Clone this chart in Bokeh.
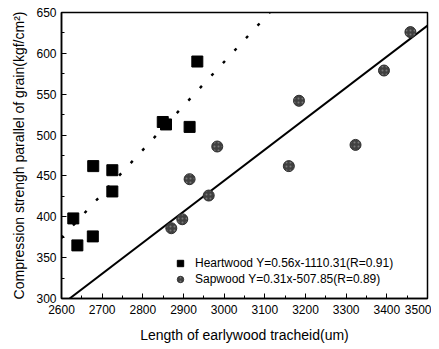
from bokeh.plotting import figure
from bokeh.models import Range1d, Legend, LegendItem, FixedTicker
from bokeh.embed import file_html
from bokeh.resources import INLINE

heart_x = [2629, 2639, 2677, 2678, 2725, 2725, 2849, 2857, 2915, 2934]
heart_y = [398, 365, 376, 462, 431, 457, 516, 513, 510, 590]
sap_x = [2870, 2897, 2915, 2962, 2983, 3159, 3184, 3323, 3393, 3458]
sap_y = [386, 397, 446, 426, 486, 462, 542, 488, 579, 626]
heart_fit_x = [2600, 3112]
heart_fit_y = [374, 650]
sap_fit_x = [2620, 3500]
sap_fit_y = [300, 634]
x_ticks = [2600, 2700, 2800, 2900, 3000, 3100, 3200, 3300, 3400, 3500]
y_ticks = [300, 350, 400, 450, 500, 550, 600, 650]
heart_label = "Heartwood Y=0.56x-1110.31(R=0.91)"
sap_label = "Sapwood Y=0.31x-507.85(R=0.89)"

FONT = "Liberation Sans"

p = figure(width=431, height=346, output_backend="svg", toolbar_location=None,
           x_range=Range1d(2600, 3500), y_range=Range1d(300, 650),
           min_border_left=61, min_border_right=4, min_border_top=12, min_border_bottom=48)
p.background_fill_color = "white"
p.border_fill_color = "white"
p.grid.visible = False
p.outline_line_color = "black"
p.outline_line_width = 1.5

for ax in (p.xaxis[0], p.yaxis[0]):
    ax.major_tick_in = 5
    ax.major_tick_out = 0
    ax.minor_tick_in = 3
    ax.minor_tick_out = 0
    ax.axis_line_width = 1.5
    ax.major_label_text_font = FONT
    ax.major_label_text_font_size = "12px"
    ax.major_label_text_color = "black"
    ax.axis_label_text_font = FONT
    ax.axis_label_text_font_size = "14px"
    ax.axis_label_text_font_style = "normal"
    ax.axis_label_text_color = "black"

p.xaxis.ticker = FixedTicker(ticks=x_ticks, minor_ticks=[t + 50 for t in x_ticks])
p.yaxis.ticker = FixedTicker(ticks=y_ticks, minor_ticks=[t + 25 for t in y_ticks])
p.xaxis.axis_label = "Length of earlywood tracheid(um)"
p.yaxis.axis_label = "Compression strengh parallel of grain(kgf/cm\u00b2)"
p.xaxis.major_label_standoff = 6
p.xaxis.axis_label_standoff = 10
p.yaxis.major_label_standoff = 5
p.yaxis.axis_label_standoff = 6

p.line(heart_fit_x, heart_fit_y, line_color="black", line_width=2.4, line_dash="3 14")
p.line(sap_fit_x, sap_fit_y, line_color="black", line_width=2)

r1 = p.scatter(heart_x, heart_y, marker="square", size=11, fill_color="black", line_color="black")
r2 = p.scatter(sap_x, sap_y, marker="circle", size=11, fill_color="#404040", line_color="#303030",
               hatch_pattern="dot", hatch_color="#777777", hatch_scale=4)

leg = Legend(items=[LegendItem(label=heart_label, renderers=[r1]),
                    LegendItem(label=sap_label, renderers=[r2])],
             location=(109, 11))
leg.border_line_color = None
leg.background_fill_alpha = 0
leg.padding = 0
leg.margin = 0
leg.spacing = 0
leg.label_height = 16
leg.glyph_height = 16
leg.glyph_width = 20
leg.label_standoff = 5
leg.label_text_font = FONT
leg.label_text_font_size = "12px"
leg.label_text_color = "black"
p.add_layout(leg, "center")

open("out.html", "w").write(file_html(p, INLINE))
